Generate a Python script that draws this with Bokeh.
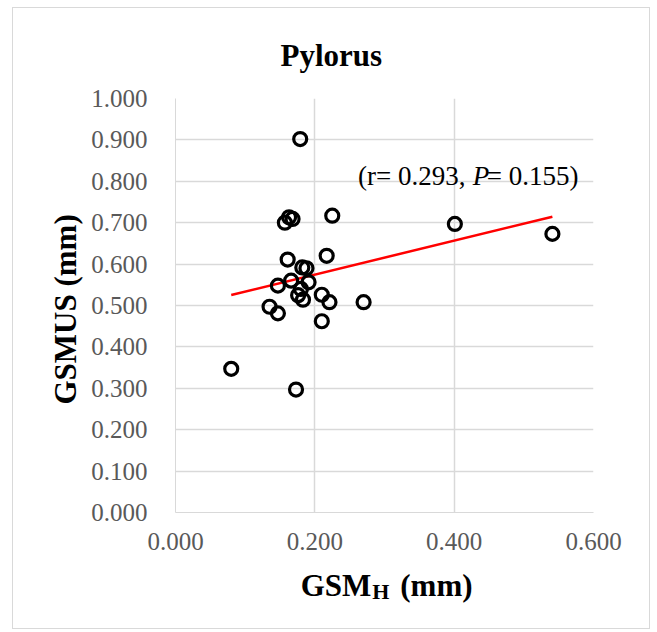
from bokeh.plotting import figure
from bokeh.layouts import column
from bokeh.models import Range1d, FixedTicker, NumeralTickFormatter, Label
from bokeh.core.properties import value
from bokeh.embed import file_html
from bokeh.resources import INLINE
import numpy as np

# GSM_H (mm) and GSMUS (mm) values
gsm_h = [0.179, 0.163, 0.168, 0.157, 0.225, 0.161, 0.217, 0.182, 0.188, 0.166,
         0.147, 0.191, 0.180, 0.176, 0.183, 0.210, 0.221, 0.270, 0.135, 0.147,
         0.210, 0.080, 0.173, 0.401, 0.541]
gsmus = [0.902, 0.713, 0.709, 0.700, 0.717, 0.611, 0.620, 0.592, 0.590, 0.560,
         0.548, 0.556, 0.540, 0.525, 0.514, 0.526, 0.508, 0.508, 0.497, 0.481,
         0.462, 0.347, 0.297, 0.697, 0.673]

x_ticks = [0.0, 0.2, 0.4, 0.6]
y_ticks = [0.0, 0.1, 0.2, 0.3, 0.4, 0.5, 0.6, 0.7, 0.8, 0.9, 1.0]

title_text = "Pylorus"
stat_r = "(r= 0.293, "
stat_p = "P"
stat_pv = "= 0.155)"
xlabel_main = "GSM"
xlabel_sub = "H"
xlabel_unit = "(mm)"

FONT = "Liberation Serif"
GRID = "#d9d9d9"
W = 636
BL, BR = 162, 56

p = figure(width=W, height=551, output_backend="svg", toolbar_location=None,
           x_range=Range1d(0, 0.6), y_range=Range1d(0, 1.0),
           min_border_left=BL, min_border_right=BR, min_border_top=90,
           min_border_bottom=47)
p.outline_line_color = None
p.background_fill_color = "white"
p.border_fill_color = "white"

p.title.text = title_text
p.title.align = "left"
p.title.offset = 105
p.title.text_font = FONT
p.title.text_font_size = "31px"
p.title.text_font_style = "bold"
p.title.text_color = "black"
p.title.standoff = 51

for ax in (p.xaxis, p.yaxis):
    ax.major_tick_line_color = None
    ax.minor_tick_line_color = None
    ax.axis_line_color = GRID
    ax.axis_line_width = 1
    ax.major_label_text_font = FONT
    ax.major_label_text_font_size = "25px"
    ax.major_label_text_color = "#595959"
    ax.formatter = NumeralTickFormatter(format="0.000")

p.xaxis.ticker = FixedTicker(ticks=x_ticks)
p.yaxis.ticker = FixedTicker(ticks=y_ticks)
p.xaxis.major_label_standoff = 14
p.yaxis.major_label_standoff = 22

p.yaxis.axis_label = "GSMUS  (mm)"
p.yaxis.axis_label_text_font = FONT
p.yaxis.axis_label_text_font_size = "31px"
p.yaxis.axis_label_text_font_style = "bold"
p.yaxis.axis_label_text_color = "black"
p.yaxis.axis_label_standoff = 5

p.xgrid.ticker = FixedTicker(ticks=x_ticks)
p.ygrid.ticker = FixedTicker(ticks=y_ticks)
p.xgrid.grid_line_color = GRID
p.ygrid.grid_line_color = GRID
p.xgrid.grid_line_width = 1.5
p.ygrid.grid_line_width = 1.5

# trendline from least squares fit of the data
xs = np.array(gsm_h)
ys = np.array(gsmus)
slope, intercept = np.polyfit(xs, ys, 1)
tx = [xs.min(), xs.max()]
ty = [slope * v + intercept for v in tx]
p.line(tx, ty, line_color="red", line_width=2.5)

p.scatter(gsm_h, gsmus, marker="circle", size=13, fill_color=None,
          line_color="black", line_width=3.2)

# statistics annotation
p.add_layout(Label(x=0.262, y=0.813, text=stat_r, text_font=FONT,
                   text_font_size="27px", text_align="left",
                   text_baseline="alphabetic", text_color="black"))
p.add_layout(Label(x=0.4268, y=0.813, text=stat_p, text_font=FONT,
                   text_font_size="27px", text_font_style="italic",
                   text_align="left", text_baseline="alphabetic",
                   text_color="black"))
p.add_layout(Label(x=0.4469, y=0.813, text=stat_pv, text_font=FONT,
                   text_font_size="27px", text_align="left",
                   text_baseline="alphabetic", text_color="black"))

# x-axis title (with subscript) in a strip below the plot, same x scale
H2 = 69
q = figure(width=W, height=H2, output_backend="svg", toolbar_location=None,
           x_range=p.x_range, y_range=Range1d(H2, 0),
           min_border_left=BL, min_border_right=BR, min_border_top=0,
           min_border_bottom=0, x_axis_type=None, y_axis_type=None)
q.outline_line_color = None
q.grid.visible = False
q.background_fill_color = "white"
q.border_fill_color = "white"
q.text(x=[0.281], y=[26], text=[xlabel_main], text_font=value(FONT),
       text_font_size="31px", text_font_style="bold", text_align="right",
       text_baseline="alphabetic", text_color="black")
q.text(x=[0.2825], y=[32], text=[xlabel_sub], text_font=value(FONT),
       text_font_size="22px", text_font_style="bold", text_align="left",
       text_baseline="alphabetic", text_color="black")
q.text(x=[0.3226], y=[26], text=[xlabel_unit], text_font=value(FONT),
       text_font_size="31px", text_font_style="bold", text_align="left",
       text_baseline="alphabetic", text_color="black")

layout = column(p, q, spacing=0,
                styles={"margin-left": "12px", "margin-top": "7px",
                        "border": "1px solid #d9d9d9"})

open("out.html", "w").write(file_html(layout, INLINE))
